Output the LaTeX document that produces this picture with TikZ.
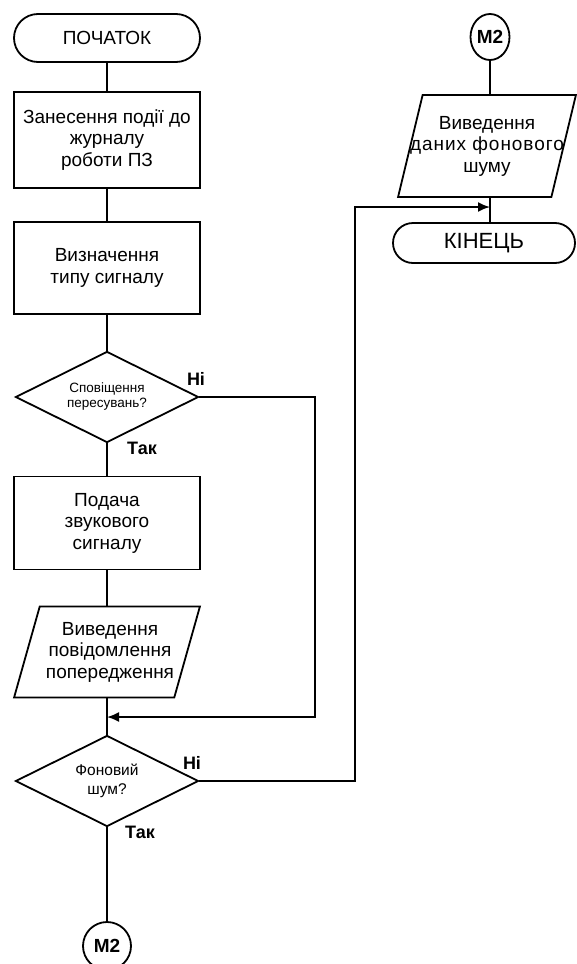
\documentclass[tikz,border=0pt]{standalone}
\usepackage{fontspec}
\setmainfont{Liberation Sans}
\usetikzlibrary{shapes.geometric,shapes.misc,arrows.meta}
\tikzset{
  base/.style={draw, line width=1.8pt, align=center, inner sep=0pt, font=\fontsize{19}{21.5}\selectfont},
  term/.style={base, rounded rectangle, minimum width=186pt, minimum height=48pt},
  proc/.style={base, rectangle, minimum width=186pt},
  decision/.style={base, diamond, minimum width=183pt, minimum height=91pt},
  io/.style={base, trapezium, trapezium stretches=true, trapezium left angle=77, trapezium right angle=103, minimum width=186pt, minimum height=91pt},
  conn/.style={base, ellipse, font=\bfseries\fontsize{19}{21}\selectfont},
  inside/.style={align=center, inner sep=0pt, font=\fontsize{19}{21.5}\selectfont},
  line/.style={line width=1.8pt},
  arrow/.style={line, -{Latex[length=12pt,width=10pt]}},
  yesno/.style={font=\bfseries\fontsize{18}{20}\selectfont, inner sep=0pt},
}
\begin{document}
\begin{tikzpicture}[x=1pt, y=-1pt]
  \useasboundingbox (0,0) rectangle (576,964);

  % left column
  \node[term] (start) at (107,38) {ПОЧАТОК};
  \node[proc, minimum height=96pt] (log) at (107,140) {Занесення події до\\журналу\\роботи ПЗ};
  \node[proc, minimum height=92pt] (type) at (107,268) {Визначення\\типу сигналу};
  \node[decision] (move) at (107,397) {\phantom{M}};
  \node[inside, font=\fontsize{13.5}{15}\selectfont] (movetext) at (move.center) {Сповіщення\\пересувань?};
  \node[proc, minimum height=93pt] (sound) at (107,523) {Подача\\звукового\\сигналу};
  \node[io] (warn) at (107,652) {\phantom{M}};
  \node[inside] (warntext) at ([xshift=3pt]warn.center) {Виведення\\повідомлення\\попередження};
  \node[decision] (noise) at (107,781) {\phantom{M}};
  \node[inside, font=\fontsize{15.5}{19}\selectfont] (noisetext) at (noise.center) {Фоновий\\шум?};
  \node[conn, minimum width=48pt, minimum height=48pt] (m2a) at (107,946) {M2};

  % right column
  \node[conn, minimum width=39pt, minimum height=46pt] (m2b) at (490,37) {M2};
  \node[io, minimum width=178pt, minimum height=102pt] (out) at (487,146) {\phantom{M}};
  \node[inside] (outtext) at (out.center)
    {Виведення\\{\addfontfeatures{LetterSpace=5}даних фонового}\\шуму};
  \node[term, minimum width=182pt, minimum height=40pt, font=\fontsize{22}{24}\selectfont] (stop) at (484,243) {КІНЕЦЬ};

  % junction points of the side branches
  \coordinate (j1) at (107,717);
  \coordinate (j2) at (490,207);

  % main flow
  \draw[line] (start) -- (log);
  \draw[line] (log) -- (type);
  \draw[line] (type) -- (move);
  \draw[line] (move) -- (sound);
  \draw[line] (sound) -- (warn);
  \draw[line] (warn.south -| j1) -- (noise.north);
  \draw[line] (noise) -- (m2a);
  \draw[line] (m2b) -- (out.north -| m2b);
  \draw[line] (out.south -| m2b) -- (stop.north -| m2b);

  % "no" branches
  \draw[arrow] (move.east) -- (315,397) -- (315,717) -- (j1);
  \draw[arrow] (noise.east) -- (355,781) -- (355,207) -- (j2);

  % branch labels
  \node[yesno] (n1) at (196,379) {Ні};
  \node[yesno] (y1) at (142,448) {Так};
  \node[yesno] (n2) at (192,763) {Ні};
  \node[yesno] (y2) at (140,832) {Так};
\end{tikzpicture}
\end{document}
